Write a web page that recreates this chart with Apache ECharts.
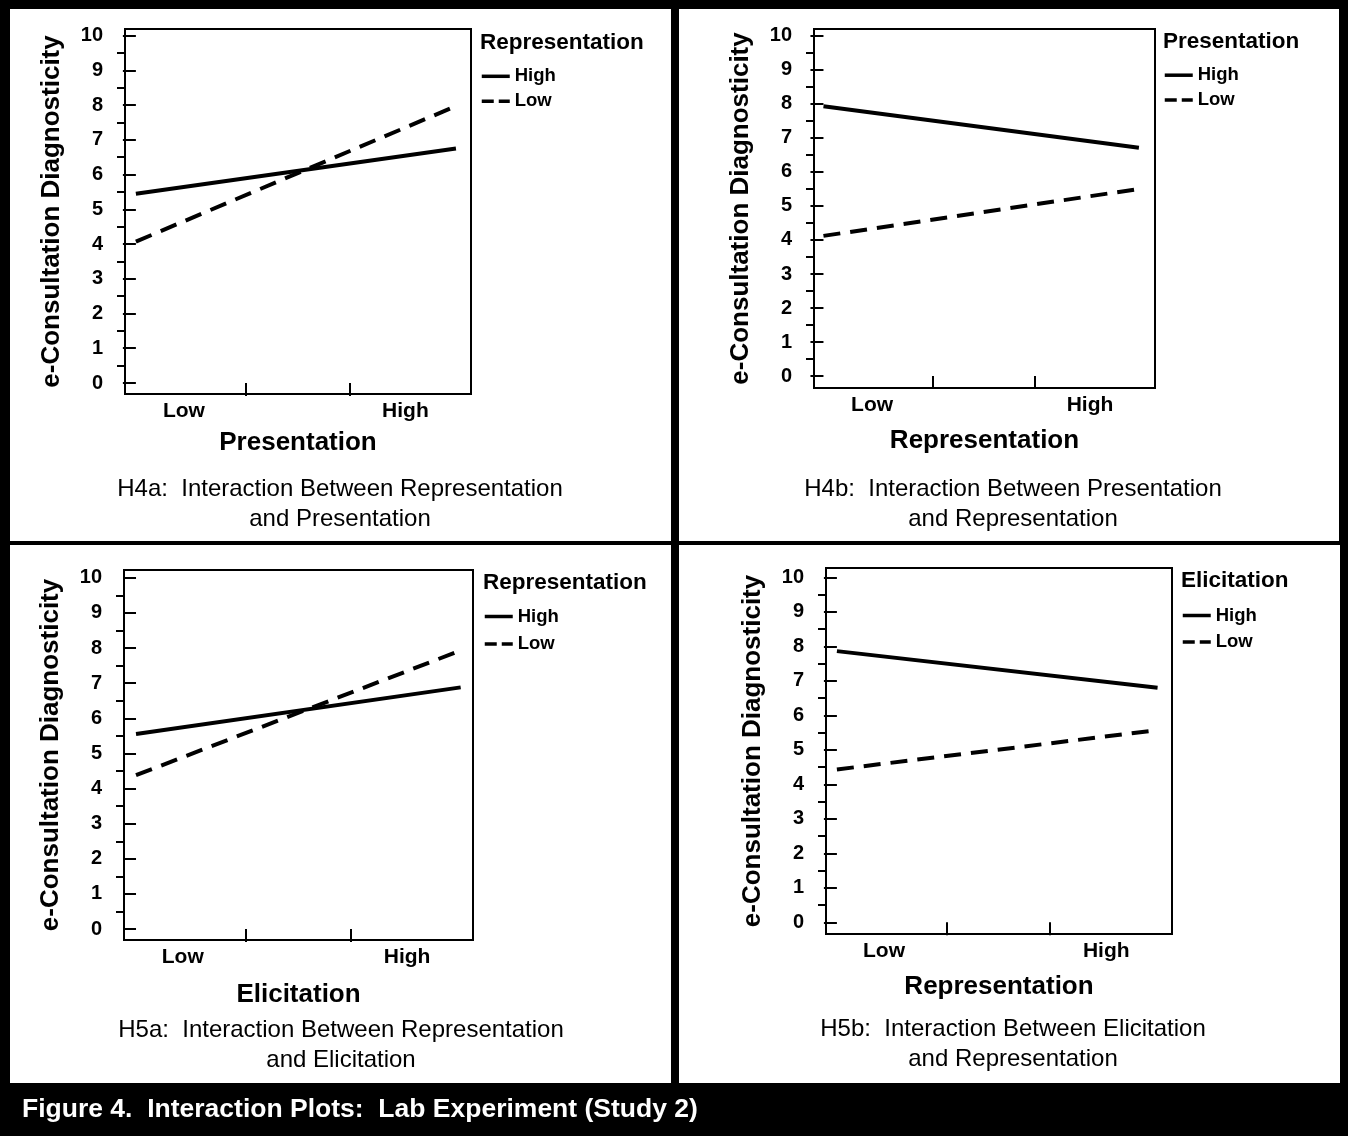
<!DOCTYPE html>
<html>
<head>
<meta charset="utf-8">
<script src="https://cdn.jsdelivr.net/npm/echarts@6/dist/echarts.min.js"></script>
<style>
  html, body { margin: 0; padding: 0; background: #fff; }
  #frame { position: absolute; left: 0; top: 0; width: 1348px; height: 1136px; background: #000; }
  .panel { position: absolute; background: #fff; }
  #chart { position: absolute; left: 0; top: 0; width: 1348px; height: 1136px; }
</style>
</head>
<body>
<div id="frame">
  <div class="panel" style="left:10px;top:9px;width:661px;height:532px"></div>
  <div class="panel" style="left:679px;top:9px;width:660px;height:532px"></div>
  <div class="panel" style="left:10px;top:545px;width:661px;height:538px"></div>
  <div class="panel" style="left:679px;top:545px;width:661px;height:538px"></div>
</div>
<div id="chart"></div>
<script>
// ---- data ----
const xLabels = ['Low', 'High'];
const yTickValues = [0, 1, 2, 3, 4, 5, 6, 7, 8, 9, 10];
const yMinorValues = [0.5, 1.5, 2.5, 3.5, 4.5, 5.5, 6.5, 7.5, 8.5, 9.5];
const seriesNames = ['High', 'Low'];

const yTitle = 'e-Consultation Diagnosticity';
const xTitles = ['Presentation', 'Representation', 'Elicitation', 'Representation'];
const legendTitles = ['Representation', 'Presentation', 'Representation', 'Elicitation'];
const captions = [
  'H4a:  Interaction Between Representation\nand Presentation',
  'H4b:  Interaction Between Presentation\nand Representation',
  'H5a:  Interaction Between Representation\nand Elicitation',
  'H5b:  Interaction Between Elicitation\nand Representation'
];
const figureCaption = 'Figure 4.  Interaction Plots:  Lab Experiment (Study 2)';

// values at Low, High of x factor
const h4aHigh = [5.45, 6.75];
const h4aLow  = [4.07, 7.97];
const h4bHigh = [7.93, 6.71];
const h4bLow  = [4.12, 5.50];
const h5aHigh = [5.55, 6.88];
const h5aLow  = [4.38, 7.93];
const h5bHigh = [7.86, 6.80];
const h5bLow  = [4.43, 5.57];
const panelData = [[h4aHigh, h4aLow], [h4bHigh, h4bLow], [h5aHigh, h5aLow], [h5bHigh, h5bLow]];

// ---- layout ----
const FONT = '"Liberation Sans", Arial, Helvetica, sans-serif';
const layout = [
  { grid: {left:125, top:29, width:346, height:365}, y:[-0.317, 10.19], x:[-0.034, 1.047], ticks:[0.342, 0.667], labels:[0.15, 0.842], xGap:36,
    lg: {left:480, titleY:43, top:66.8, gap:6}, cap: {x:340, y:474} },
  { grid: {left:814, top:29, width:341, height:359}, y:[-0.35, 10.2], x:[-0.030, 1.051], ticks:[0.345, 0.671], labels:[0.154, 0.845], xGap:40,
    lg: {left:1163, titleY:42, top:65.7, gap:5.7}, cap: {x:1013, y:474} },
  { grid: {left:124, top:570, width:349, height:370}, y:[-0.31, 10.22], x:[-0.037, 1.038], ticks:[0.337, 0.661], labels:[0.144, 0.835], xGap:42,
    lg: {left:483, titleY:582.6, top:607, gap:8.6}, cap: {x:341, y:1015} },
  { grid: {left:826, top:568, width:346, height:366}, y:[-0.34, 10.27], x:[-0.034, 1.045], ticks:[0.344, 0.665], labels:[0.147, 0.84], xGap:40,
    lg: {left:1181, titleY:580.7, top:606, gap:7.4}, cap: {x:1013, y:1014} }
];

const hidden = { color: 'rgba(0,0,0,0)', borderColor: 'rgba(0,0,0,0)', borderWidth: 0, opacity: 0 };
const grid = [], xAxis = [], yAxis = [], series = [], legend = [], title = [];

layout.forEach((L, i) => {
  grid.push(Object.assign({ show: true, borderColor: '#000', borderWidth: 2, backgroundColor: 'transparent', containLabel: false, outerBoundsMode: 'none' }, L.grid));
  xAxis.push({
    type: 'value', gridIndex: i, min: L.x[0], max: L.x[1],
    axisLine: { show: false },
    splitLine: { show: false },
    axisTick: { show: true, customValues: L.ticks, length: 13, inside: false, lineStyle: { color: '#000', width: 2 } },
    axisLabel: { show: true, customValues: L.labels, margin: 7,
      formatter: v => (v < 0.5 ? xLabels[0] : xLabels[1]),
      color: '#000', fontFamily: FONT, fontWeight: 'bold', fontSize: 21 },
    name: xTitles[i], nameLocation: 'middle', nameGap: L.xGap,
    nameTextStyle: { color: '#000', fontFamily: FONT, fontWeight: 'bold', fontSize: 26 }
  });
  yAxis.push({
    type: 'value', gridIndex: i, position: 'left', min: L.y[0], max: L.y[1],
    axisLine: { show: false }, splitLine: { show: false },
    axisTick: { show: true, customValues: yTickValues, length: 13, lineStyle: { color: '#000', width: 2 } },
    axisLabel: { show: true, customValues: yTickValues, margin: 22, color: '#000', fontFamily: FONT, fontWeight: 'bold', fontSize: 20 },
    name: yTitle, nameLocation: 'middle', nameGap: 60,
    nameTextStyle: { color: '#000', fontFamily: FONT, fontWeight: 'bold', fontSize: 26 }
  });
  yAxis.push({
    type: 'value', gridIndex: i, position: 'left', offset: 0, min: L.y[0], max: L.y[1],
    axisLine: { show: false }, splitLine: { show: false },
    axisTick: { show: true, customValues: yMinorValues, length: 8, lineStyle: { color: '#000', width: 2 } },
    axisLabel: { show: false }
  });
  const d = panelData[i];
  series.push({
    type: 'line', name: seriesNames[0], xAxisIndex: i, yAxisIndex: 2 * i,
    data: [[0, d[0][0]], [1, d[0][1]]], symbol: 'none', silent: true,
    itemStyle: { color: '#000' },
    lineStyle: { color: '#000', width: 4, type: 'solid' }
  });
  series.push({
    type: 'line', name: seriesNames[1], xAxisIndex: i, yAxisIndex: 2 * i,
    data: [[0, d[1][0]], [1, d[1][1]]], symbol: 'none', silent: true,
    itemStyle: { color: '#000' },
    lineStyle: { color: '#000', width: 4, type: [17, 10] }
  });
  legend.push({
    show: true, orient: 'vertical', left: L.lg.left, top: L.lg.top, padding: 0,
    itemWidth: 28, itemHeight: 14, itemGap: L.lg.gap, selectedMode: false,
    itemStyle: hidden,
    textStyle: { color: '#000', fontFamily: FONT, fontWeight: 'bold', fontSize: 18.5, lineHeight: 18 },
    data: [
      { name: seriesNames[0], itemStyle: hidden, lineStyle: { color: '#000', width: 3.5, type: 'solid' } },
      { name: seriesNames[1], itemStyle: hidden, lineStyle: { color: '#000', width: 3.5, type: [12, 5] } }
    ]
  });
  title.push({
    text: legendTitles[i], left: L.lg.left, top: L.lg.titleY - 11, padding: 0,
    textStyle: { color: '#000', fontFamily: FONT, fontWeight: 'bold', fontSize: 22.5, lineHeight: 22 }
  });
  title.push({
    text: captions[i], left: L.cap.x, top: L.cap.y, textAlign: 'center', padding: 0,
    textStyle: { color: '#000', fontFamily: FONT, fontWeight: 'normal', fontSize: 24, lineHeight: 30, align: 'center' }
  });
});

title.push({
  text: figureCaption, left: 22, top: 1097, padding: 0,
  textStyle: { color: '#fff', fontFamily: FONT, fontWeight: 'bold', fontSize: 26.5, lineHeight: 26 }
});

const chart = echarts.init(document.getElementById('chart'), null, { renderer: 'canvas' });
chart.setOption({
  backgroundColor: 'transparent',
  animation: false,
  title, legend, grid, xAxis, yAxis, series
});
</script>
</body>
</html>
